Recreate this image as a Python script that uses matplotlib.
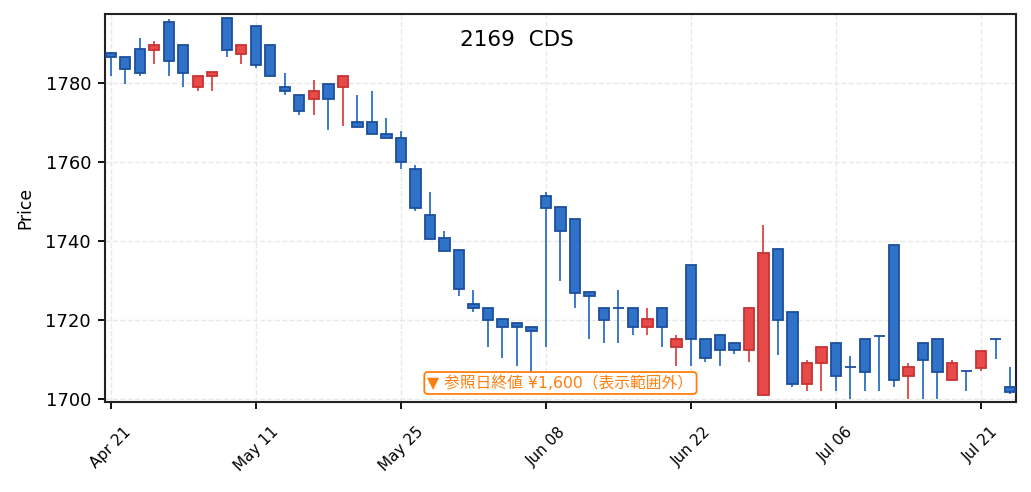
import numpy as np
import pandas as pd
import matplotlib
matplotlib.use('Agg')
import matplotlib.pyplot as plt

plt.rcParams['font.family'] = ['DejaVu Sans', 'Noto Sans CJK JP']

# -----------------------------
# Dados
# -----------------------------
feriados = ['2026-04-29', '2026-05-04', '2026-05-05', '2026-05-06', '2026-07-20']
datas = pd.bdate_range('2026-04-21', '2026-07-23', freq='C', holidays=feriados)

abertura = [1787.6, 1786.6, 1788.6, 1788.5, 1795.4, 1789.6, 1778.9, 1781.7, 1796.5, 1787.5,
            1794.4, 1789.6, 1779.0, 1776.9, 1775.9, 1779.7, 1778.9, 1770.1, 1770.1, 1767.1,
            1766.2, 1758.2, 1746.6, 1740.8, 1737.8, 1724.1, 1723.0, 1720.2, 1719.2, 1718.2,
            1751.4, 1748.6, 1745.6, 1727.1, 1723.0, 1723.0, 1723.0, 1718.2, 1723.0, 1713.1,
            1734.0, 1715.3, 1716.2, 1714.2, 1712.3, 1700.9, 1738.0, 1722.0, 1703.9, 1709.0,
            1714.2, 1708.1, 1715.2, 1715.9, 1739.0, 1705.9, 1714.2, 1715.2, 1704.9, 1707.1,
            1707.9, 1715.2, 1703.0]
fechamento = [1786.5, 1783.6, 1782.6, 1789.6, 1785.7, 1782.6, 1781.8, 1782.8, 1788.5, 1789.6,
              1784.7, 1781.7, 1777.9, 1772.9, 1778.0, 1775.9, 1781.8, 1769.0, 1767.0, 1766.0,
              1760.0, 1748.5, 1740.6, 1737.6, 1727.8, 1723.0, 1720.1, 1718.2, 1718.2, 1717.1,
              1748.5, 1742.5, 1726.9, 1726.0, 1720.1, 1723.0, 1718.2, 1720.2, 1718.2, 1715.2,
              1715.1, 1710.3, 1712.3, 1712.3, 1723.0, 1737.0, 1719.9, 1703.9, 1709.1, 1713.2,
              1705.9, 1708.1, 1706.9, 1715.9, 1704.9, 1708.1, 1710.0, 1706.9, 1709.1, 1707.1,
              1712.2, 1715.2, 1701.9]
maxima = [1787.8, 1786.6, 1791.5, 1790.6, 1796.3, 1789.6, 1781.8, 1782.8, 1796.5, 1789.6,
          1794.4, 1789.6, 1782.6, 1776.9, 1780.7, 1779.7, 1781.8, 1776.9, 1777.9, 1771.1,
          1768.0, 1759.2, 1752.3, 1742.5, 1737.8, 1727.7, 1723.0, 1720.2, 1719.2, 1718.2,
          1752.3, 1748.6, 1745.6, 1727.1, 1723.0, 1727.7, 1723.0, 1723.0, 1723.0, 1716.1,
          1734.0, 1715.3, 1716.2, 1714.2, 1723.0, 1744.0, 1738.0, 1722.0, 1710.0, 1713.2,
          1714.2, 1711.0, 1715.2, 1715.9, 1739.0, 1709.0, 1714.2, 1715.2, 1710.0, 1707.1,
          1712.2, 1715.2, 1708.1]
minima = [1781.8, 1779.7, 1781.8, 1784.8, 1781.8, 1779.0, 1778.0, 1778.0, 1786.6, 1784.8,
          1783.8, 1781.7, 1777.0, 1771.9, 1771.9, 1768.1, 1769.1, 1769.0, 1767.0, 1766.0,
          1758.3, 1747.6, 1740.6, 1737.6, 1726.1, 1722.0, 1713.2, 1710.4, 1708.4, 1706.0,
          1713.2, 1729.9, 1723.0, 1715.2, 1714.2, 1714.2, 1716.2, 1716.2, 1713.2, 1708.4,
          1708.4, 1709.4, 1708.4, 1711.4, 1709.4, 1700.9, 1711.1, 1703.0, 1702.0, 1702.0,
          1702.0, 1700.0, 1702.0, 1702.0, 1703.0, 1700.0, 1700.0, 1700.0, 1704.9, 1702.0,
          1707.1, 1710.1, 1701.2]

# -----------------------------
# Gráfico de velas
# -----------------------------
o = np.array(abertura)
c = np.array(fechamento)
h = np.array(maxima)
l = np.array(minima)
x = np.arange(len(o))
alta = c > o

fig = plt.figure(figsize=(10.31, 4.92), dpi=100)
ax = fig.add_axes([0.1018, 0.1829, 0.8836, 0.7886])

cor_pavio = np.where(alta, '#e04444', '#2d6fc4')
cor_corpo = np.where(alta, '#e84a4a', '#2f72c8')
cor_borda = np.where(alta, '#c83232', '#1c4f9e')

ax.vlines(x, l, h, colors=cor_pavio, linewidth=1.3, zorder=2)
ax.bar(x, np.abs(c - o), bottom=np.minimum(o, c), width=0.7,
       color=cor_corpo, edgecolor=cor_borda, linewidth=1.3, zorder=3)

ax.set_xlim(-0.41, 62.41)
ax.set_ylim(1699.24, 1797.5)
ax.set_yticks([1700, 1720, 1740, 1760, 1780])

pos = list(range(0, len(x), 10))
ax.set_xticks(pos)
ax.set_xticklabels([datas[i].strftime('%b %d') for i in pos], rotation=45)

ax.set_ylabel('Price', fontsize=12.3, labelpad=8)
ax.tick_params(axis='y', labelsize=13, length=5, width=1.3, pad=5)
ax.tick_params(axis='x', labelsize=11, length=5, width=1.3, pad=11)
ax.grid(True, linestyle='--', color='#e8e8e8', linewidth=1, zorder=0)
ax.set_axisbelow(True)
for s in ax.spines.values():
    s.set_linewidth(1.5)
    s.set_color('#222222')

ax.text(0.452, 0.933, '2169  CDS', transform=ax.transAxes,
        ha='center', va='center', fontsize=15.5)
ax.text(0.5, 0.049, '▼ 参照日終値 ¥1,600（表示範囲外）', transform=ax.transAxes,
        ha='center', va='center', fontsize=11.3, color='#ff7f0e', zorder=6,
        bbox=dict(boxstyle='round,pad=0.2', fc='white', ec='#ff7f0e', lw=1.3))

plt.savefig('out.png', dpi=100)
plt.close()
